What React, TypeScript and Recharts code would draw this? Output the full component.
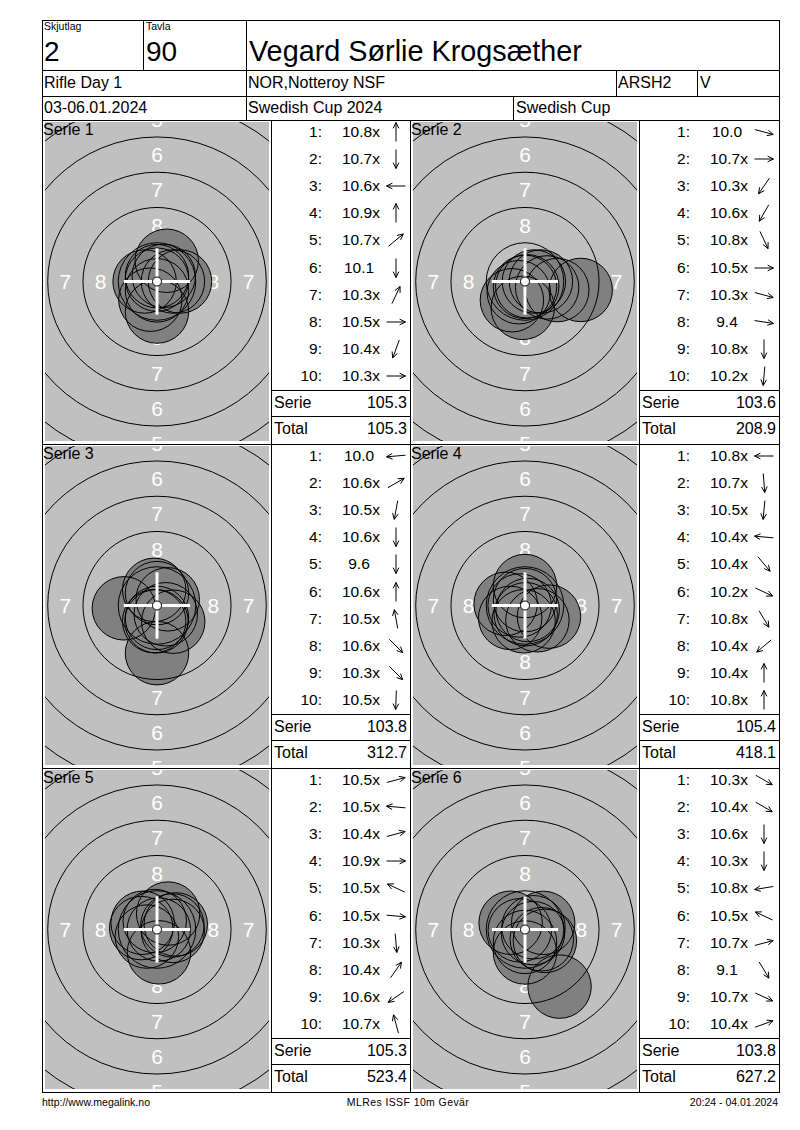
import React from "react";
import { Scatter, ScatterChart, XAxis, YAxis } from "recharts";

// Shot positions are millimetres from the target centre (x right, y up).
const serie1Scores = ["10.8x", "10.7x", "10.6x", "10.9x", "10.7x", "10.1", "10.3x", "10.5x", "10.4x", "10.3x"];
const serie1X = [0, 0, -0.88, 0, 0.48, 0, 0.69, 1.13, -0.47, 1.63];
const serie1Y = [0.38, -0.63, 0, 0.13, 0.4, -2.13, 1.47, 0, -1.29, 0];

const serie2Scores = ["10.0", "10.7x", "10.3x", "10.6x", "10.8x", "10.5x", "10.3x", "9.4", "10.8x", "10.2x"];
const serie2X = [2.29, 0.63, -0.93, -0.44, 0.16, 1.13, 1.57, 3.95, 0, -0.16];
const serie2Y = [-0.61, 0, -1.33, -0.76, -0.34, 0, -0.42, -0.6, -0.38, -1.87];

const serie3Scores = ["10.0", "10.6x", "10.5x", "10.6x", "9.6", "10.6x", "10.5x", "10.6x", "10.3x", "10.5x"];
const serie3X = [-2.35, 0.76, -0.2, 0, 0, 0, -0.2, 0.62, 1.15, -0.04];
const serie3Y = [-0.2, 0.44, -1.11, -0.88, -3.38, 0.88, 1.11, -0.62, -1.15, -1.12];

const serie4Scores = ["10.8x", "10.7x", "10.5x", "10.4x", "10.4x", "10.2x", "10.8x", "10.4x", "10.4x", "10.8x"];
const serie4X = [-0.38, 0.05, -0.1, -1.37, 0.88, 1.7, 0.19, -1.05, 0, 0];
const serie4Y = [0, -0.62, -1.12, 0.12, -1.05, -0.79, -0.32, -0.88, 1.38, 0.38];

const serie5Scores = ["10.5x", "10.5x", "10.4x", "10.9x", "10.5x", "10.5x", "10.3x", "10.4x", "10.6x", "10.7x"];
const serie5X = [1.09, -1.12, 1.33, 0.13, -1.02, 1.12, 0.14, 0.79, -0.72, -0.16];
const serie5Y = [0.29, 0.1, 0.36, 0, 0.48, -0.1, -1.62, 1.13, -0.5, 0.6];

const serie6Scores = ["10.3x", "10.4x", "10.6x", "10.3x", "10.8x", "10.5x", "10.7x", "9.1", "10.7x", "10.4x"];
const serie6X = [1.41, 1.19, 0, 0, -0.37, -1.02, 0.6, 2.45, 0.57, 1.29];
const serie6Y = [-0.81, -0.69, -0.88, -1.63, -0.06, 0.48, 0.16, -4.05, -0.26, 0.47];

const serieSums = ["105.3", "103.6", "103.8", "105.4", "105.3", "103.8"];
const runningTotals = ["105.3", "208.9", "312.7", "418.1", "523.4", "627.2"];

// ISSF 10m rifle rings (radius, mm) and where their numbers sit
const ringRadii = [2.75, 5.25, 7.75, 10.25, 12.75];
const ringNumbers = [8, 7, 6, 5];
const ringNumberRadii = [4.0, 6.5, 9.0, 11.5];
const pelletRadius = 2.25;
const tenDotRadius = 0.25;
const crossHalf = 2.35;

const FONT = '"Liberation Sans", Arial, sans-serif';
const K = 14.1; // px per mm
const TW = 224;
const TH = 319;
const XH = TW / 2 / K;
const YH = TH / 2 / K;

const series = [
  { scores: serie1Scores, xs: serie1X, ys: serie1Y },
  { scores: serie2Scores, xs: serie2X, ys: serie2Y },
  { scores: serie3Scores, xs: serie3X, ys: serie3Y },
  { scores: serie4Scores, xs: serie4X, ys: serie4Y },
  { scores: serie5Scores, xs: serie5X, ys: serie5Y },
  { scores: serie6Scores, xs: serie6X, ys: serie6Y },
];

const ringData = ringRadii.map((r) => ({ x: 0, y: 0, r }));
const labelData = ringNumbers.flatMap((n, i) => {
  const d = ringNumberRadii[i];
  return [
    { x: 0, y: d, n },
    { x: 0, y: -d, n },
    { x: d, y: 0, n },
    { x: -d, y: 0, n },
  ];
});
const centreData = [{ x: 0, y: 0 }];

const LabelShape = (p: any) => (
  <text
    x={p.cx}
    y={p.cy}
    textAnchor="middle"
    dominantBaseline="central"
    fill="#ffffff"
    fontSize={21}
    fontFamily={FONT}
  >
    {p.payload.n}
  </text>
);
const ShotFill = (p: any) => (
  <circle cx={p.cx} cy={p.cy} r={pelletRadius * K} fill="#808080" stroke="none" />
);
const ShotEdge = (p: any) => (
  <circle cx={p.cx} cy={p.cy} r={pelletRadius * K} fill="none" stroke="#000" strokeWidth={1} />
);
const RingShape = (p: any) => (
  <circle cx={p.cx} cy={p.cy} r={p.payload.r * K} fill="none" stroke="#000" strokeWidth={1} />
);
const CentreShape = (p: any) => {
  const h = crossHalf * K;
  return (
    <g>
      <line x1={p.cx - h} y1={p.cy} x2={p.cx + h} y2={p.cy} stroke="#fff" strokeWidth={3} />
      <line x1={p.cx} y1={p.cy - h} x2={p.cx} y2={p.cy + h} stroke="#fff" strokeWidth={3} />
      <circle cx={p.cx} cy={p.cy} r={tenDotRadius * K + 1} fill="#fff" stroke="#000" strokeWidth={1} />
    </g>
  );
};

function Target({ left, top, shots }: { left: number; top: number; shots: { x: number; y: number }[] }) {
  return (
    <div
      style={{
        position: "absolute",
        left,
        top,
        width: TW,
        height: TH,
        background: "#c0c0c0",
        overflow: "hidden",
      }}
    >
      <ScatterChart width={TW} height={TH} margin={{ top: 0, right: 0, bottom: 0, left: 0 }}>
        <XAxis type="number" dataKey="x" domain={[-XH, XH]} hide allowDataOverflow />
        <YAxis type="number" dataKey="y" domain={[-YH, YH]} hide allowDataOverflow />
        <Scatter data={labelData} shape={LabelShape} isAnimationActive={false} />
        <Scatter data={shots} shape={ShotFill} isAnimationActive={false} />
        <Scatter data={ringData} shape={RingShape} isAnimationActive={false} />
        <Scatter data={shots} shape={ShotEdge} isAnimationActive={false} />
        <Scatter data={centreData} shape={CentreShape} isAnimationActive={false} />
      </ScatterChart>
    </div>
  );
}

function Arrow({ angle }: { angle: number }) {
  const a = (angle * Math.PI) / 180;
  const dx = Math.cos(a);
  const dy = -Math.sin(a);
  const L = 9.5;
  const tx = 10 + dx * L;
  const ty = 10 + dy * L;
  const head = (off: number) => {
    const b = Math.atan2(dy, dx) + Math.PI + off;
    return { x: tx + Math.cos(b) * 6.5, y: ty + Math.sin(b) * 6.5 };
  };
  const h1 = head(0.45);
  const h2 = head(-0.45);
  return (
    <svg width={20} height={20} style={{ position: "absolute", left: -10, top: -10, overflow: "visible" }}>
      <line x1={10 - dx * L} y1={10 - dy * L} x2={tx} y2={ty} stroke="#000" strokeWidth={1} />
      <polyline points={`${h1.x},${h1.y} ${tx},${ty} ${h2.x},${h2.y}`} fill="none" stroke="#000" strokeWidth={1} />
    </svg>
  );
}

const abs = (left: number, top: number, extra: React.CSSProperties = {}): React.CSSProperties => ({
  position: "absolute",
  left,
  top,
  ...extra,
});

const HLine = ({ x1, x2, y }: { x1: number; x2: number; y: number }) => (
  <div style={abs(x1, y, { width: x2 - x1, height: 1, background: "#000" })} />
);
const VLine = ({ x, y1, y2 }: { x: number; y1: number; y2: number }) => (
  <div style={abs(x, y1, { width: 1, height: y2 - y1, background: "#000" })} />
);

function ShotTable({ left, top, idx }: { left: number; top: number; idx: number }) {
  const s = series[idx];
  const width = idx % 2 === 0 ? 139 : 140;
  return (
    <>
      {s.scores.map((sc, i) => {
        const cy = top + 12 + 27.1 * i;
        const hasX = sc.endsWith("x");
        const ang = (Math.atan2(s.ys[i], s.xs[i]) * 180) / Math.PI;
        return (
          <React.Fragment key={i}>
            <div style={abs(left, cy - 10, { width: 51, textAlign: "right", lineHeight: "20px", fontSize: 15.5 })}>
              {i + 1}:
            </div>
            <div
              style={abs(left + 71, cy - 10, {
                width: hasX ? undefined : 34,
                textAlign: hasX ? "left" : "center",
                lineHeight: "20px",
                fontSize: 15.5,
                whiteSpace: "nowrap",
              })}
            >
              {sc}
            </div>
            <div style={abs(left + 125, cy)}>
              <Arrow angle={ang} />
            </div>
          </React.Fragment>
        );
      })}
      <HLine x1={left} x2={left + width} y={top + 270} />
      <HLine x1={left} x2={left + width} y={top + 296} />
      <div style={abs(left + 3, top + 273, { lineHeight: "20px", fontSize: 16 })}>Serie</div>
      <div style={abs(left, top + 273, { width: width - 3, textAlign: "right", lineHeight: "20px", fontSize: 16 })}>
        {serieSums[idx]}
      </div>
      <div style={abs(left + 3, top + 299, { lineHeight: "20px", fontSize: 16 })}>Total</div>
      <div style={abs(left, top + 299, { width: width - 3, textAlign: "right", lineHeight: "20px", fontSize: 16 })}>
        {runningTotals[idx]}
      </div>
    </>
  );
}

const panelTops = [120, 444, 768];
const targetLefts = [42, 410];
const tableLefts = [271, 639];

export default function App() {
  return (
    <div
      style={{
        position: "absolute",
        left: 0,
        top: 0,
        width: 800,
        height: 1130,
        background: "#fff",
        fontFamily: FONT,
        color: "#000",
      }}
    >
      {/* header */}
      <div style={abs(44, 21, { fontSize: 10.5, lineHeight: 1 })}>Skjutlag</div>
      <div style={abs(44, 38, { fontSize: 28, lineHeight: 1 })}>2</div>
      <div style={abs(146, 21, { fontSize: 10.5, lineHeight: 1 })}>Tavla</div>
      <div style={abs(146, 38, { fontSize: 28, lineHeight: 1 })}>90</div>
      <div style={abs(249, 37, { fontSize: 28.8, lineHeight: 1 })}>Vegard Sørlie Krogsæther</div>
      <div style={abs(44, 70, { fontSize: 16, lineHeight: "26px" })}>Rifle Day 1</div>
      <div style={abs(248, 70, { fontSize: 16, lineHeight: "26px" })}>NOR,Notteroy NSF</div>
      <div style={abs(618, 70, { fontSize: 16, lineHeight: "26px" })}>ARSH2</div>
      <div style={abs(700, 70, { fontSize: 16, lineHeight: "26px" })}>V</div>
      <div style={abs(44, 96, { fontSize: 16, lineHeight: "24px" })}>03-06.01.2024</div>
      <div style={abs(248, 96, { fontSize: 16, lineHeight: "24px" })}>Swedish Cup 2024</div>
      <div style={abs(516, 96, { fontSize: 16, lineHeight: "24px" })}>Swedish Cup</div>

      {/* targets and shot lists */}
      {series.map((s, idx) => {
        const top = panelTops[Math.floor(idx / 2)];
        const tl = targetLefts[idx % 2];
        const shots = s.xs.map((x, i) => ({ x, y: s.ys[i] }));
        return (
          <React.Fragment key={idx}>
            <Target left={tl + 3} top={top + 2} shots={shots} />
            <div style={abs(tl + 1, top + 1, { fontSize: 16, lineHeight: "18px" })}>Serie {idx + 1}</div>
            <ShotTable left={tableLefts[idx % 2]} top={top} idx={idx} />
          </React.Fragment>
        );
      })}

      {/* grid lines */}
      <HLine x1={42} x2={780} y={20} />
      <HLine x1={42} x2={780} y={70} />
      <HLine x1={42} x2={780} y={96} />
      <HLine x1={42} x2={780} y={120} />
      <HLine x1={42} x2={780} y={444} />
      <HLine x1={42} x2={780} y={768} />
      <HLine x1={42} x2={780} y={1092} />
      <VLine x={42} y1={20} y2={1093} />
      <VLine x={779} y1={20} y2={1093} />
      <VLine x={143} y1={20} y2={70} />
      <VLine x={246} y1={20} y2={120} />
      <VLine x={616} y1={70} y2={96} />
      <VLine x={697} y1={70} y2={96} />
      <VLine x={513} y1={96} y2={120} />
      <VLine x={271} y1={120} y2={1093} />
      <VLine x={410} y1={120} y2={1093} />
      <VLine x={639} y1={120} y2={1093} />

      {/* footer */}
      <div style={abs(42, 1095, { fontSize: 10.5, lineHeight: "14px" })}>http://www.megalink.no</div>
      <div style={abs(300, 1095, { width: 216, textAlign: "center", fontSize: 10.5, lineHeight: "14px", letterSpacing: 0.4 })}>
        MLRes ISSF 10m Gevär
      </div>
      <div style={abs(580, 1095, { width: 198, textAlign: "right", fontSize: 10.5, lineHeight: "14px" })}>
        20:24 - 04.01.2024
      </div>
    </div>
  );
}
